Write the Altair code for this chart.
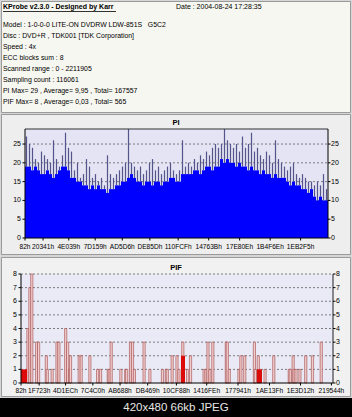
import altair as alt
import pandas as pd

LBA_MAX = 2211905

TITLE = "KProbe v2.3.0 - Designed by Karr"
DATE = "Date : 2004-08-24 17:28:35"
HEADER_LINES = [
    "Model : 1-0-0-0 LITE-ON DVDRW LDW-851S\u00a0\u00a0\u00a0G5C2",
    "Disc : DVD+R , TDK001 [TDK Corporation]",
    "Speed : 4x",
    "ECC blocks sum : 8",
    "Scanned range : 0 - 2211905",
    "Sampling count : 116061",
    "PI Max= 29 , Average= 9,95 , Total= 167557",
    "PIF Max= 8 , Average= 0,03 , Total= 565",
]
CAPTION = "420x480 66kb JPEG"

PI_BASE = [19, 19, 18, 19, 18, 17, 17, 18, 17, 16, 17, 18, 19, 19, 18, 16, 16, 15, 15,
           14, 14, 13, 14, 13, 14, 13, 13, 12, 13, 13, 14, 14, 15, 15, 16, 17, 16,
           15, 15, 14, 15, 15, 14, 15, 15, 14, 15, 15, 16, 16, 15, 15, 17, 17,
           17, 17, 18, 18, 17, 18, 19, 19, 18, 19, 19, 21, 20, 21, 20, 20, 19, 20,
           19, 19, 18, 19, 18, 18, 17, 18, 17, 17, 16, 17, 16, 16, 16,
           15, 14, 15, 14, 14, 13, 13, 12, 13, 11, 10, 11, 10, 10]
PI_PEAK = [27, 25, 24, 21, 20, 23, 22, 21, 20, 26, 21, 19, 22, 28, 24, 23, 18, 20, 16,
           17, 21, 19, 16, 17, 15, 16, 14, 22, 17, 16, 17, 18, 19, 20, 29, 20, 19,
           18, 19, 17, 18, 20, 21, 18, 19, 17, 18, 19, 20, 18, 17, 18, 26, 19,
           20, 19, 21, 20, 22, 21, 23, 22, 24, 25, 24, 25, 29, 26, 25, 24, 25, 23,
           27, 24, 25, 28, 23, 24, 22, 21, 23, 22, 20, 26, 21, 20, 19,
           18, 19, 20, 17, 16, 17, 16, 15, 15, 14, 15, 14, 17, 13]

PIF_LBA = [14200, 28400, 42500, 78000, 92200, 148900, 156000, 191400, 226900, 241000,
           290700, 304800, 319000, 326100, 389900, 404100, 467900, 524600, 545900,
           602600, 609700, 623900, 694800, 730200, 737300, 765700, 779800, 794000,
           864900, 907400, 999600, 1027900, 1035000, 1070500, 1105900, 1120100,
           1148500, 1183900, 1205200, 1304400, 1318600, 1332800, 1347000, 1368300,
           1467500, 1474600, 1488700, 1559600, 1573800, 1602100, 1673000, 1680100,
           1701400, 1708500, 1751000, 1814800, 1928300, 1935400, 1956700, 1963800,
           1977900, 2006300, 2048800, 2098400, 2162200]
PIF_VAL = [4, 7, 8, 3, 3, 2, 1, 1, 3, 3,
           4, 3, 1, 2, 2, 2, 2, 1, 1,
           1, 1, 3, 1, 1, 1, 3, 3, 1,
           3, 1, 1, 1, 1, 2, 2, 1,
           3, 1, 2, 1, 1, 3, 1, 3,
           3, 3, 1, 1, 2, 2, 3, 1,
           2, 1, 1, 2, 1, 1, 2, 1,
           1, 1, 2, 2, 3]
PIF_BLOCK_START = [0, 1134300, 1673000]
PIF_BLOCK_END = [42500, 1162700, 1708500]
PIF_BLOCK_VAL = [1, 2, 1]

PI_XLABELS = ["82h", "20341h", "4E039h", "7D159h", "AD5D6h", "DE85Dh", "110FCFh",
              "14763Bh", "17E80Eh", "1B4F6Eh", "1EB2F5h"]
PIF_XLABELS = ["82h", "1F723h", "4D1ECh", "7C4C0h", "AB688h", "DB469h", "10CF88h",
               "1416FEh", "177941h", "1AE13Fh", "1E3D12h", "219544h"]
PI_YTICKS = [0, 5, 10, 15, 20, 25]
PIF_YTICKS = [0, 1, 2, 3, 4, 5, 6, 7, 8]

FONT = "Liberation Sans"

# ---- scales (pixel ranges inside the 352x417 canvas)
pi_x = alt.Scale(domain=[0, LBA_MAX], range=[25, 328], nice=False, zero=False)
pi_y = alt.Scale(domain=[0, 29], range=[238, 129], nice=False)
pif_x = alt.Scale(domain=[0, LBA_MAX], range=[21, 333], nice=False, zero=False)
pif_y = alt.Scale(domain=[0, 8], range=[383, 274], nice=False)

one = pd.DataFrame({"k": [0]})


def rect(x, x2, y, y2, fill, stroke=None, sw=1.0):
    kw = dict(fill=fill)
    if stroke:
        kw.update(stroke=stroke, strokeWidth=sw)
    return alt.Chart(one).mark_rect(**kw).encode(
        x=alt.value(x), x2=alt.value(x2), y=alt.value(y), y2=alt.value(y2))


def hline(x, x2, y, color, sw=1.0, dash=None):
    kw = dict(color=color, strokeWidth=sw)
    if dash:
        kw["strokeDash"] = dash
    return alt.Chart(one).mark_rule(**kw).encode(
        x=alt.value(x), x2=alt.value(x2), y=alt.value(y), y2=alt.value(y))


def vline(x, y, y2, color, sw=1.0):
    return alt.Chart(one).mark_rule(color=color, strokeWidth=sw).encode(
        x=alt.value(x), x2=alt.value(x), y=alt.value(y), y2=alt.value(y2))


def label(text, x, y, size=7.0, bold=False, align="left", color="#000000"):
    return alt.Chart(one).mark_text(
        text=text, font=FONT, fontSize=size, fontWeight="bold" if bold else "normal",
        align=align, baseline="middle", color=color
    ).encode(x=alt.value(x), y=alt.value(y))


layers = []
# page background and panels
layers.append(rect(0, 352, 0, 417, "#d6d6d6"))
layers.append(rect(1.5, 350.5, 1.5, 112.5, "#f7f7f1", "#9a9a9a", 1))
layers.append(rect(1.5, 350.5, 114.5, 254.5, "#eeeeee", "#9a9a9a", 1))
layers.append(rect(1.5, 350.5, 257.5, 396.5, "#f1f1f1", "#9a9a9a", 1))
layers.append(rect(0, 352, 398, 417, "#000000"))

# header text
layers.append(label(TITLE, 3, 7, size=7.0, bold=True))
layers.append(hline(3, 116, 11.5, "#000000", 0.8))
layers.append(label(DATE, 176, 7, size=7.0))
for i, line in enumerate(HEADER_LINES):
    layers.append(label(line, 3, 25 + i * 11.0, size=6.9))

# ---------------- PI chart ----------------
layers.append(rect(25, 328, 129, 238, "#e4e4f4"))
pi_grid = pd.DataFrame({"v": [v for v in PI_YTICKS if v > 0]})
layers.append(alt.Chart(pi_grid).mark_rule(color="#606060", strokeWidth=0.8, strokeDash=[2, 2]).encode(
    x=alt.value(25), x2=alt.value(328), y=alt.Y("v:Q", scale=pi_y, axis=None)))

n = len(PI_BASE)
step = LBA_MAX / n
pi_df = pd.DataFrame({
    "x0": [i * step for i in range(n)],
    "x1": [(i + 1) * step for i in range(n)],
    "xc": [(i + 0.5) * step for i in range(n)],
    "base": PI_BASE,
    "peak": PI_PEAK,
})
layers.append(alt.Chart(pi_df).mark_rule(color="#55558c", strokeWidth=1.2).encode(
    x=alt.X("xc:Q", scale=pi_x, axis=None),
    y=alt.Y("base:Q", scale=pi_y, axis=None),
    y2="peak:Q"))
layers.append(alt.Chart(pi_df).mark_rect(color="#0000ff").encode(
    x=alt.X("x0:Q", scale=pi_x, axis=None), x2="x1:Q",
    y=alt.Y("base:Q", scale=pi_y, axis=None), y2=alt.datum(0)))

# frame
layers.append(hline(25, 328, 129, "#303030", 1))
layers.append(hline(25, 328, 238, "#000000", 1))
layers.append(vline(25, 129, 238, "#000000", 1))
layers.append(vline(328, 129, 238, "#000000", 1))

pi_yt = pd.DataFrame({"v": PI_YTICKS, "t": [str(v) for v in PI_YTICKS]})
layers.append(alt.Chart(pi_yt).mark_text(font=FONT, fontSize=7, align="right", baseline="middle").encode(
    x=alt.value(21), y=alt.Y("v:Q", scale=pi_y, axis=None), text="t:N"))
layers.append(alt.Chart(pi_yt).mark_text(font=FONT, fontSize=7, align="left", baseline="middle").encode(
    x=alt.value(331), y=alt.Y("v:Q", scale=pi_y, axis=None), text="t:N"))
layers.append(alt.Chart(pi_yt).mark_rule(color="#000000").encode(
    x=alt.value(22.5), x2=alt.value(25), y=alt.Y("v:Q", scale=pi_y, axis=None)))
layers.append(alt.Chart(pi_yt).mark_rule(color="#000000").encode(
    x=alt.value(328), x2=alt.value(330.5), y=alt.Y("v:Q", scale=pi_y, axis=None)))

pi_xt = pd.DataFrame({"t": PI_XLABELS, "lba": [int(s[:-1], 16) for s in PI_XLABELS]})
layers.append(alt.Chart(pi_xt).mark_text(font=FONT, fontSize=6.6, align="center", baseline="middle").encode(
    x=alt.X("lba:Q", scale=pi_x, axis=None), y=alt.value(246.5), text="t:N"))
layers.append(alt.Chart(pi_xt).mark_rule(color="#000000").encode(
    x=alt.X("lba:Q", scale=pi_x, axis=None), y=alt.value(238), y2=alt.value(240.5)))
layers.append(label("PI", 176, 123, size=7.5, bold=True, align="center"))

# ---------------- PIF chart ----------------
layers.append(rect(21, 333, 274, 383, "#eaeaf6"))
pif_grid = pd.DataFrame({"v": [v for v in PIF_YTICKS if v > 0]})
layers.append(alt.Chart(pif_grid).mark_rule(color="#606060", strokeWidth=0.8, strokeDash=[2, 2]).encode(
    x=alt.value(21), x2=alt.value(333), y=alt.Y("v:Q", scale=pif_y, axis=None)))

pif_df = pd.DataFrame({"lba": PIF_LBA, "v": PIF_VAL})
layers.append(alt.Chart(pif_df).mark_bar(width=2.2, fill="#f2cccc", stroke="#a04646", strokeWidth=0.6).encode(
    x=alt.X("lba:Q", scale=pif_x, axis=None),
    y=alt.Y("v:Q", scale=pif_y, axis=None), y2=alt.datum(0)))
blk = pd.DataFrame({"s": PIF_BLOCK_START, "e": PIF_BLOCK_END, "v": PIF_BLOCK_VAL})
layers.append(alt.Chart(blk).mark_rect(color="#dd0a0a").encode(
    x=alt.X("s:Q", scale=pif_x, axis=None), x2="e:Q",
    y=alt.Y("v:Q", scale=pif_y, axis=None), y2=alt.datum(0)))

layers.append(hline(21, 333, 383, "#000000", 1))
layers.append(vline(21, 274, 383, "#000000", 1))
layers.append(vline(333, 274, 383, "#202020", 1))

pif_yt = pd.DataFrame({"v": PIF_YTICKS, "t": [str(v) for v in PIF_YTICKS]})
layers.append(alt.Chart(pif_yt).mark_text(font=FONT, fontSize=7, align="right", baseline="middle").encode(
    x=alt.value(17), y=alt.Y("v:Q", scale=pif_y, axis=None), text="t:N"))
layers.append(alt.Chart(pif_yt).mark_text(font=FONT, fontSize=7, align="left", baseline="middle").encode(
    x=alt.value(336), y=alt.Y("v:Q", scale=pif_y, axis=None), text="t:N"))
layers.append(alt.Chart(pif_yt).mark_rule(color="#000000").encode(
    x=alt.value(18.5), x2=alt.value(21), y=alt.Y("v:Q", scale=pif_y, axis=None)))
layers.append(alt.Chart(pif_yt).mark_rule(color="#000000").encode(
    x=alt.value(333), x2=alt.value(335.5), y=alt.Y("v:Q", scale=pif_y, axis=None)))

pif_xt = pd.DataFrame({"t": PIF_XLABELS, "lba": [int(s[:-1], 16) for s in PIF_XLABELS]})
layers.append(alt.Chart(pif_xt).mark_text(font=FONT, fontSize=6.6, align="center", baseline="middle").encode(
    x=alt.X("lba:Q", scale=pif_x, axis=None), y=alt.value(390.5), text="t:N"))
layers.append(alt.Chart(pif_xt).mark_rule(color="#000000").encode(
    x=alt.X("lba:Q", scale=pif_x, axis=None), y=alt.value(383), y2=alt.value(385.5)))
layers.append(label("PIF", 176, 268, size=7.5, bold=True, align="center"))

# caption
layers.append(label(CAPTION, 176, 408, size=11.5, align="center", color="#e6e6e6"))

chart = alt.layer(*layers).resolve_scale(x="independent", y="independent").properties(
    width=352, height=417, padding=0,
    autosize=alt.AutoSizeParams(type="none"),
).configure_view(stroke=None)

chart.save("out.html", embed_options={"renderer": "svg", "actions": False})
